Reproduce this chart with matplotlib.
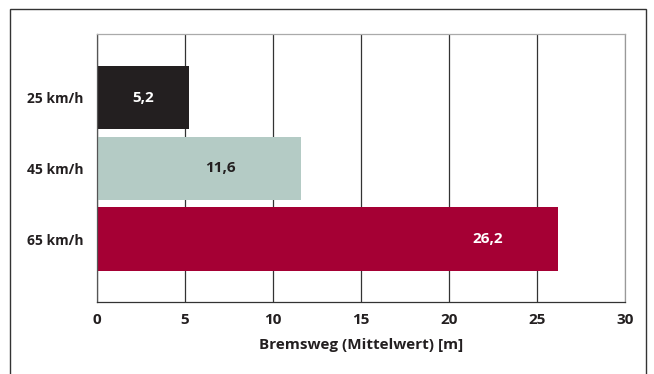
import matplotlib
matplotlib.use("Agg")
from matplotlib import pyplot as plt
from matplotlib.patches import Rectangle

plt.rcParams['font.family'] = ['Open Sans', 'DejaVu Sans']

speeds = ['25 km/h', '45 km/h', '65 km/h']
bremsweg = [5.2, 11.6, 26.2]
value_labels = ['5,2', '11,6', '26,2']
bar_colors = ['#231f20', '#b4cbc5', '#a50034']
label_colors = ['white', '#231f20', 'white']
label_x = [2.6, 7.0, 22.2]
xticks = [0, 5, 10, 15, 20, 25, 30]

TEXT = '#231f20'

fig = plt.figure(figsize=(6.54, 3.74), dpi=100)
ax = fig.add_axes([97 / 654, 1 - 302 / 374, 528 / 654, 268 / 374])

# outer frame round the whole chart
fig.patches.append(Rectangle((10 / 654, -0.1), 636 / 654, 1.1 - 9 / 374,
                             transform=fig.transFigure, fill=False,
                             edgecolor='#333333', linewidth=1.0))

ypos = range(len(speeds))
ax.barh(ypos, bremsweg, height=0.9, color=bar_colors, zorder=2)

for y, x, txt, c in zip(ypos, label_x, value_labels, label_colors):
    ax.text(x, y, txt, ha='center', va='center', color=c,
            fontsize=11, fontweight='bold', zorder=3)

ax.set_xlim(0, 30)
ax.set_ylim(2.89, -0.9)
ax.set_xticks(xticks)
ax.set_xticklabels([str(t) for t in xticks], fontsize=11, fontweight='bold', color=TEXT)
ax.set_yticks(list(ypos))
ax.set_yticklabels(speeds, fontsize=10, fontweight='bold', color=TEXT)
ax.tick_params(axis='both', length=0, pad=8)
ax.tick_params(axis='y', pad=10)

ax.grid(axis='x', color='#333333', linewidth=0.9, zorder=1)
for t in ax.get_xgridlines()[-1:]:
    t.set_color('#999999')

ax.spines['left'].set_color('#555555')
ax.spines['bottom'].set_color('#333333')
ax.spines['top'].set_color('#aaaaaa')
ax.spines['right'].set_color('#999999')
for s in ax.spines.values():
    s.set_linewidth(0.9)

ax.set_xlabel('Bremsweg (Mittelwert) [m]', fontsize=11, fontweight='bold',
              color=TEXT, labelpad=8)

fig.savefig('out.png', dpi=100)
